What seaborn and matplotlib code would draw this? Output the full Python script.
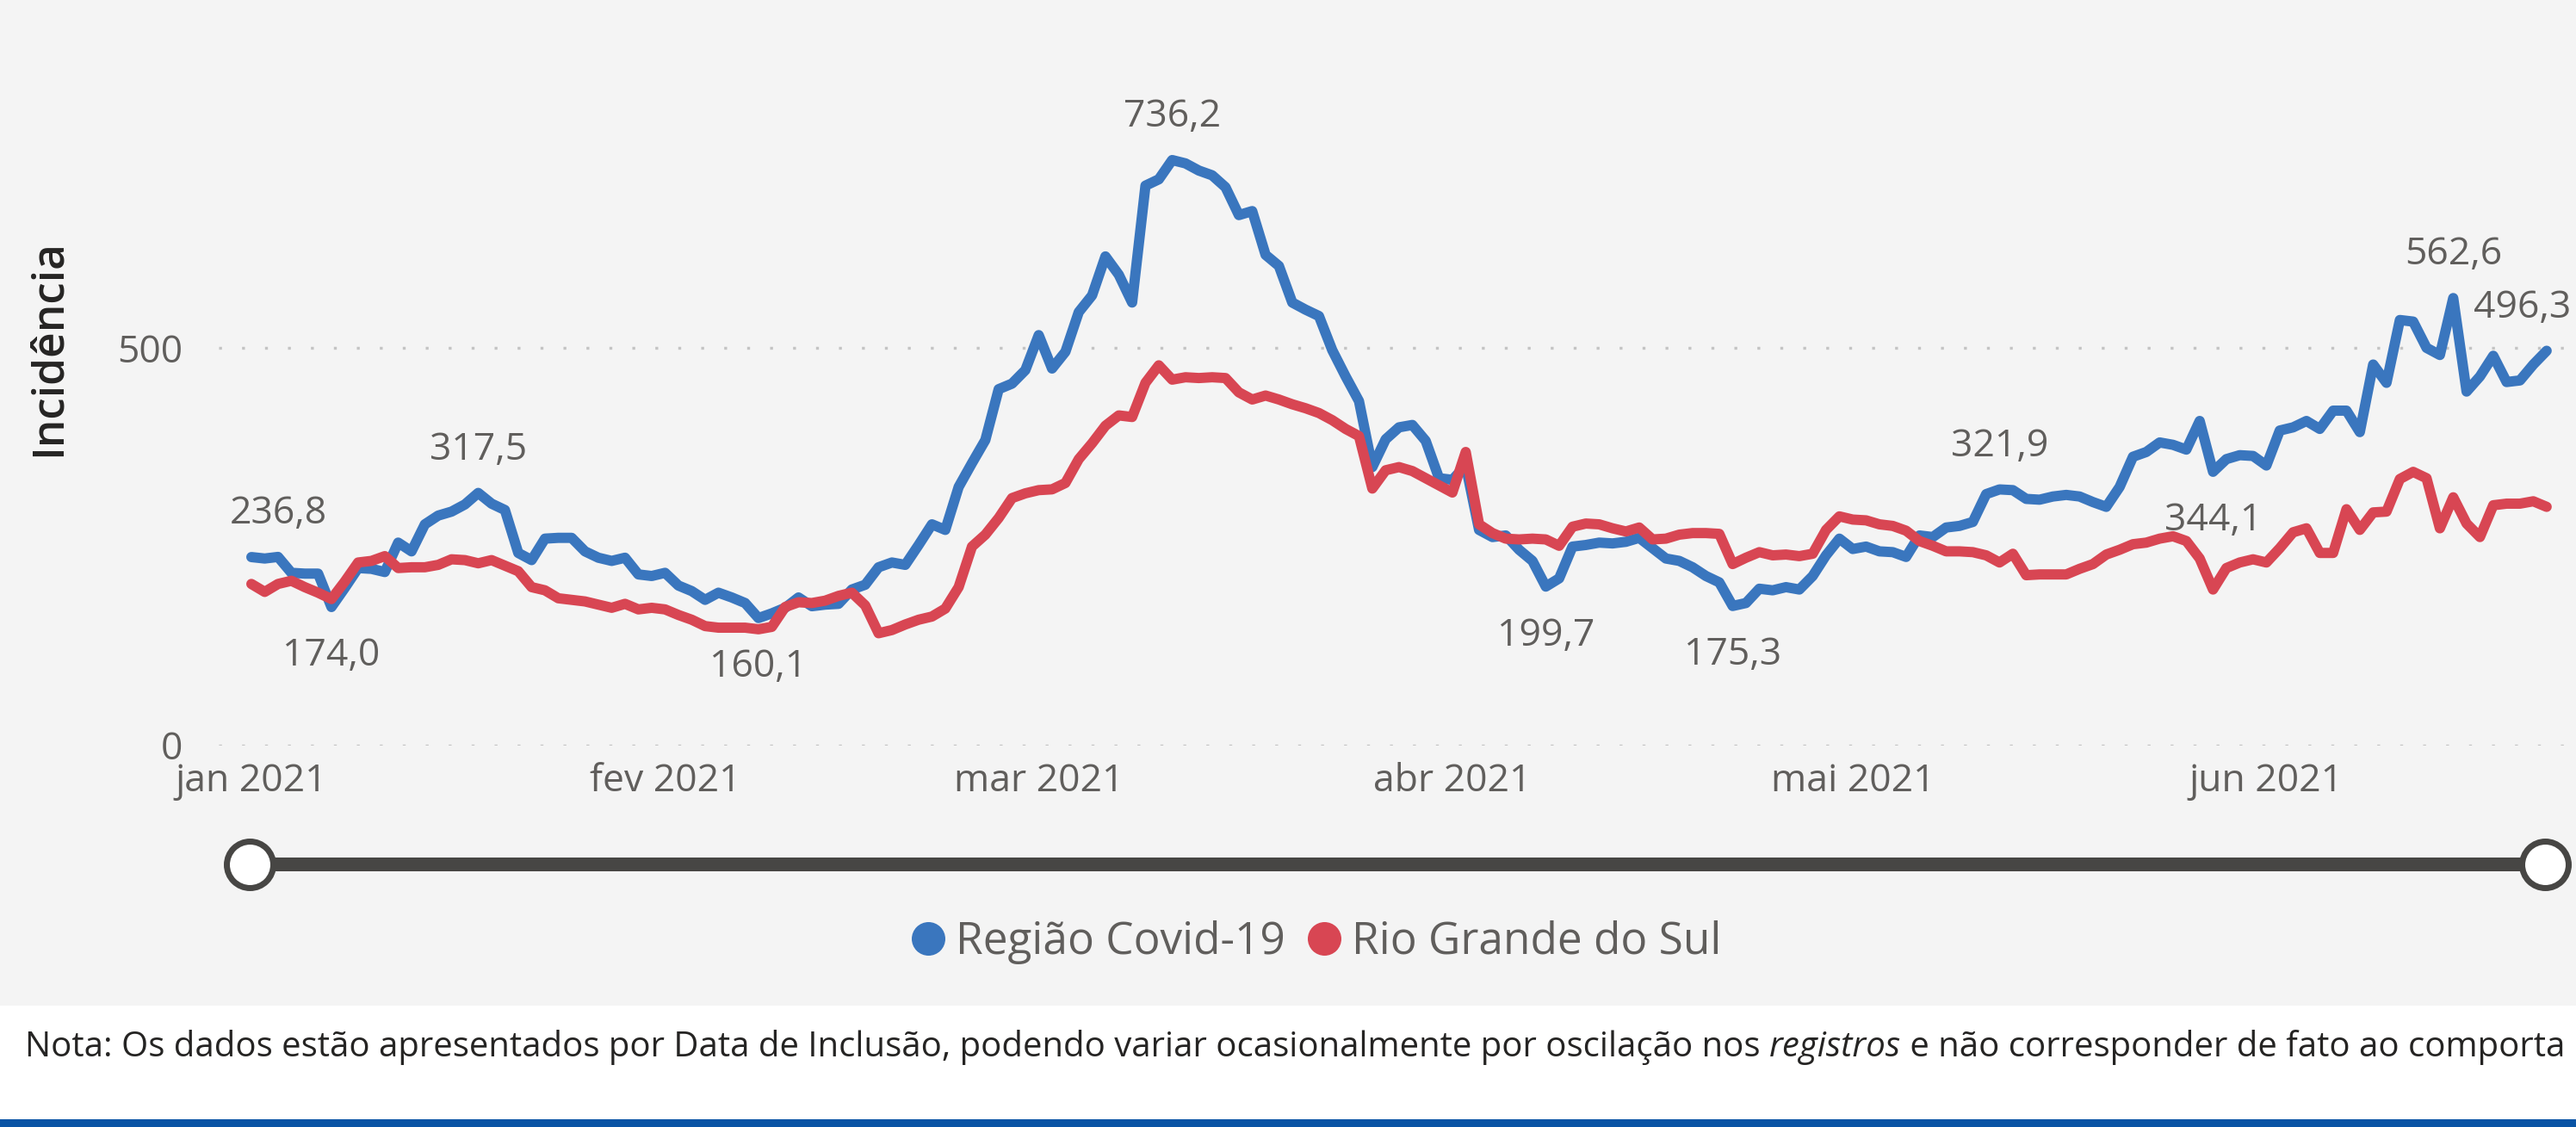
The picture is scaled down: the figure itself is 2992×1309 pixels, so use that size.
import pandas as pd
import matplotlib.pyplot as plt
import seaborn as sns
import numpy as np
from matplotlib.lines import Line2D

# ==========================================
# DATA (daily incidence, 01/01/2021 - 22/06/2021)
# ==========================================
start_date = "2021-01-01"

regiao_covid = [
    236.8, 235, 237, 217, 216, 216, 174.0, 198, 223, 222,
    218, 255, 244, 278, 289, 294, 303, 317.5, 304, 296,
    242, 233, 260, 261, 261, 244, 236, 232, 236, 215,
    213, 217, 201, 194, 183, 192, 186, 179, 160.1, 166,
    173, 186, 175, 177, 178, 196, 202, 224, 230, 227,
    252, 278, 271, 325, 355, 384, 448, 455, 472, 516,
    474, 495, 545, 566, 615, 592, 557, 704, 712, 736.2,
    732, 723, 717, 702, 667, 672, 617, 603, 557, 548,
    540, 497, 464, 433, 350, 385, 400, 403, 383, 336,
    334, 352, 271, 262, 264, 246, 232, 199.7, 210, 250,
    252, 255, 254, 256, 261, 248, 235, 232, 224, 213,
    205, 175.3, 179, 197, 195, 199, 196, 213, 239, 260,
    247, 250, 244, 243, 237, 264, 262, 274, 276, 281,
    316, 321.9, 321, 310, 309, 313, 315, 313, 306, 300,
    325, 363, 369, 381, 378, 372, 408, 344.1, 360, 365,
    364, 352, 396, 400, 408, 398, 421, 421, 394, 479,
    456, 535, 533, 500, 491, 562.6, 445, 464, 490, 457,
    459, 479, 496.3,
]

rio_grande_sul = [
    203, 193, 203, 207, 199, 192, 184, 206, 230, 232,
    238, 223, 224, 224, 227, 234, 233, 229, 233, 226,
    219, 199, 195, 185, 183, 181, 177, 173, 178, 171,
    173, 171, 164, 158, 150, 148, 148, 148, 146, 149,
    174, 180, 179, 182, 188, 192, 176, 141, 145, 152,
    158, 162, 172, 199, 250, 265, 286, 311, 317, 321,
    322, 330, 360, 380, 402, 415, 413, 456, 478, 460,
    463, 462, 463, 462, 444, 435, 440, 435, 429, 424,
    418, 409, 398, 389, 323, 346, 350, 345, 336, 327,
    318, 369, 278, 267, 260, 259, 260, 259, 251, 275,
    279, 278, 273, 269, 274, 259, 260, 265, 267, 267,
    266, 228, 236, 243, 239, 240, 238, 241, 271, 288,
    284, 283, 278, 276, 270, 257, 251, 244, 244, 243,
    239, 230, 241, 214, 215, 215, 215, 222, 228, 240,
    246, 253, 255, 260, 263, 257, 235, 196, 223, 230,
    234, 230, 248, 268, 273, 242, 242, 297, 271, 293,
    294, 335, 344, 336, 273, 312, 279, 262, 302, 304,
    304, 307, 300,
]

series_names = ["Região Covid-19", "Rio Grande do Sul"]
month_ticks = ["2021-01-01", "2021-02-01", "2021-03-01", "2021-04-01", "2021-05-01", "2021-06-01"]
month_labels = ["jan 2021", "fev 2021", "mar 2021", "abr 2021", "mai 2021", "jun 2021"]
y_ticks = [0, 500]

# data labels shown on the Região Covid-19 line
label_days = [0, 6, 17, 38, 69, 97, 111, 131, 147, 165, 172]
label_side = ["above", "below", "above", "below", "above", "below", "below", "above", "below", "above", "above"]

# footnote as it is visible in the report (cut at the right edge)
note_parts = [
    ("Nota: Os dados estão apresentados por Data de Inclusão, podendo variar ocasionalmente por oscilação nos ", "normal"),
    ("registros", "italic"),
    (" e não corresponder de fato ao comporta", "normal"),
]

# ==========================================
# BUILD TABLE
# ==========================================
dates = pd.date_range(start_date, periods=len(regiao_covid), freq="D")
df = pd.concat([
    pd.DataFrame({"Data": dates, "Incidência": regiao_covid, "Série": series_names[0]}),
    pd.DataFrame({"Data": dates, "Incidência": rio_grande_sul, "Série": series_names[1]}),
], ignore_index=True)

palette = {series_names[0]: "#3A76BE", series_names[1]: "#D84653"}
label_color = "#605E5C"

# ==========================================
# FIGURE
# ==========================================
W, H = 2992, 1309
sns.set_theme(style="white")
plt.rcParams["font.family"] = ["Open Sans", "DejaVu Sans"]

fig = plt.figure(figsize=(W / 100, H / 100), dpi=100)
fig.patch.set_facecolor("white")

# background layer in pixel coordinates (panel, footer bar, range slider)
bg = fig.add_axes([0, 0, 1, 1], zorder=0)
bg.set_xlim(0, W)
bg.set_ylim(H, 0)
bg.axis("off")
bg.add_patch(plt.Rectangle((0, 0), W, 1168, color="#F4F4F4", lw=0))
bg.add_patch(plt.Rectangle((0, 1300), W, 9, color="#0A54A5", lw=0))
bg.plot([290, 2956], [1004, 1004], color="#474644", lw=16 * 0.72, solid_capstyle="butt")
bg.scatter([290, 2956], [1004, 1004], s=(54 * 0.72) ** 2, facecolor="white",
           edgecolor="#474644", linewidth=7 * 0.72, zorder=3)

# main chart
y_zero, y_top_px = 865.7, 127.0
ax = fig.add_axes([254 / W, (H - y_zero) / H, (W - 254) / W, (y_zero - y_top_px) / H], zorder=1)
ax.patch.set_alpha(0)

sns.lineplot(
    data=df,
    x="Data",
    y="Incidência",
    hue="Série",
    hue_order=series_names,
    palette=palette,
    linewidth=8.6,
    ax=ax,
    legend=False,
)
for line in ax.lines:
    line.set_solid_joinstyle("round")
    line.set_solid_capstyle("round")

t0 = pd.Timestamp(start_date)
ax.set_xlim(t0 - pd.Timedelta(days=2.45), t0 + pd.Timedelta(days=174.2))
ax.set_ylim(0, 800)

ax.set_xticks(pd.to_datetime(month_ticks))
ax.set_xticklabels(month_labels)
ax.set_yticks(y_ticks)
ax.set_yticklabels([str(v) for v in y_ticks])
ax.tick_params(axis="both", length=0, labelsize=32, labelcolor=label_color)
ax.tick_params(axis="y", pad=30)
ax.tick_params(axis="x", pad=14)
ax.set_xlabel("")
ax.set_ylabel("")
ax.grid(axis="y", color="#C4C4C4", linestyle=(0, (1, 7)), linewidth=2.4)
ax.grid(axis="x", visible=False)
ax.set_axisbelow(True)
sns.despine(ax=ax, left=True, bottom=True)

# data labels
for d, side in zip(label_days, label_side):
    val = regiao_covid[d]
    dx = 0
    if d == 0:
        dx = 31
    if d == len(regiao_covid) - 1:
        dx = -28
    dy = 50 if side == "above" else -57
    ax.annotate(f"{val:.1f}".replace(".", ","), xy=(dates[d], val),
                xytext=(dx, dy), textcoords="offset pixels",
                ha="center", va="center", fontsize=32, color=label_color)

# y axis title
fig.text(57 / W, 1 - 404 / H, "Incidência", rotation=90, ha="center", va="center",
         fontsize=37, fontweight="semibold", color="#252423")

# legend
handles = [Line2D([], [], marker="o", linestyle="none", markersize=39 * 0.72,
                  markerfacecolor=palette[n], markeredgewidth=0) for n in series_names]
fig.legend(handles, series_names, loc="center left", bbox_to_anchor=(1058 / W, 1 - 1094 / H),
           ncol=2, frameon=False, fontsize=37, labelcolor=label_color,
           handlelength=0.76, handletextpad=0.25, columnspacing=0.5,
           borderpad=0, borderaxespad=0)

# footnote with italic word
note_size = 28.9
prev = fig.text(29 / W, 1 - 1227 / H, note_parts[0][0], ha="left", va="baseline",
                fontsize=note_size, color="#252423", style=note_parts[0][1])
for txt, st in note_parts[1:]:
    fig.canvas.draw()
    bb = prev.get_window_extent()
    prev = fig.text(bb.x1 / W, 1 - 1227 / H, txt, ha="left", va="baseline",
                    fontsize=note_size, color="#252423", style=st)

fig.savefig("out.png", dpi=100, facecolor=fig.get_facecolor())
